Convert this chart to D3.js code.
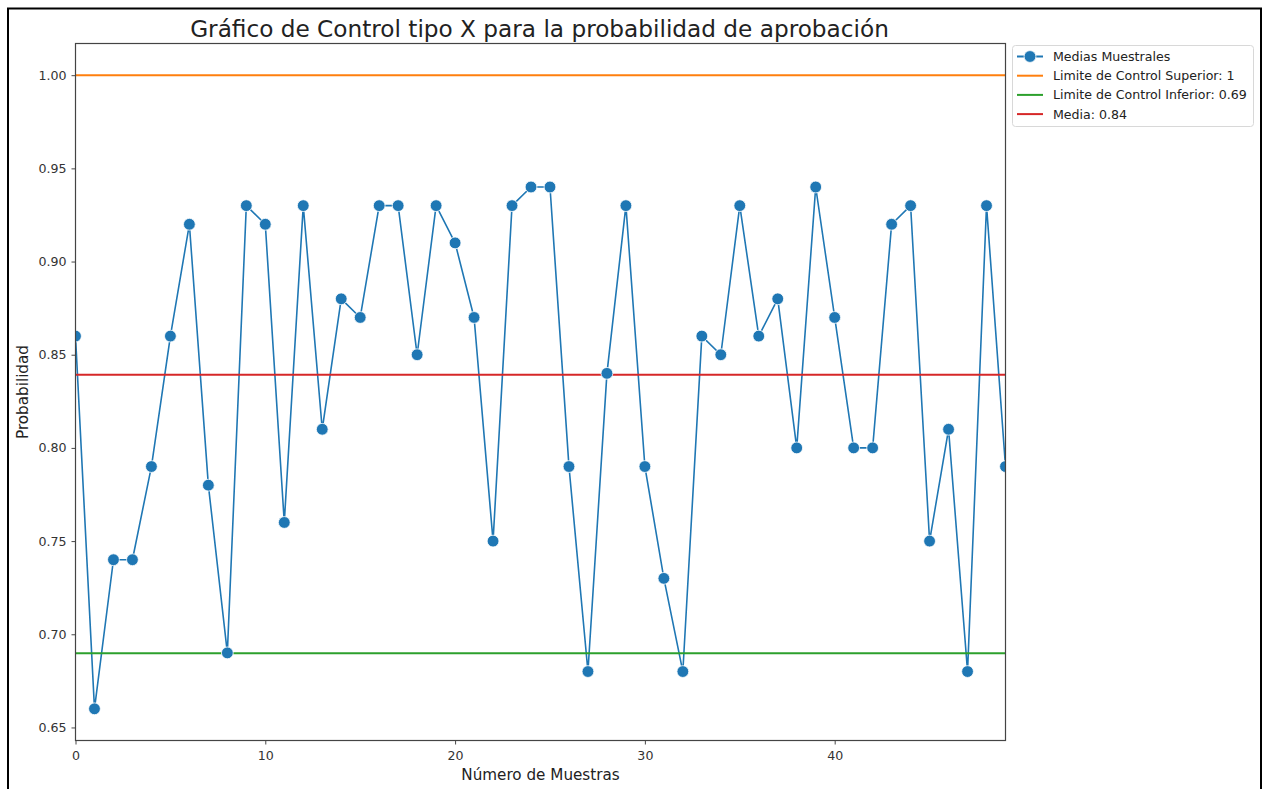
<!DOCTYPE html>
<html>
<head>
<meta charset="utf-8">
<script src="https://cdn.jsdelivr.net/npm/d3@7"></script>
<style>
  html, body { margin: 0; padding: 0; background: #fff; }
  svg { display: block; font-family: "DejaVu Sans", sans-serif; }
</style>
</head>
<body>
<svg id="chart" width="1264" height="789"></svg>
<script>
// Sample means of the approval probability, one per sample
const sampleIndex = d3.range(50);
const sampleMeans = [
  0.86, 0.66, 0.74, 0.74, 0.79, 0.86, 0.92, 0.78, 0.69, 0.93,
  0.92, 0.76, 0.93, 0.81, 0.88, 0.87, 0.93, 0.93, 0.85, 0.93,
  0.91, 0.87, 0.75, 0.93, 0.94, 0.94, 0.79, 0.68, 0.84, 0.93,
  0.79, 0.73, 0.68, 0.86, 0.85, 0.93, 0.86, 0.88, 0.80, 0.94,
  0.87, 0.80, 0.80, 0.92, 0.93, 0.75, 0.81, 0.68, 0.93, 0.79
];
const upperLimit = 1;
const lowerLimit = 0.6898;
const centerLine = d3.mean(sampleMeans);

const xTicks = [0, 10, 20, 30, 40];
const yTicks = [0.65, 0.70, 0.75, 0.80, 0.85, 0.90, 0.95, 1.00];

const titleText = "Gráfico de Control tipo X para la probabilidad de aprobación";
const xLabel = "Número de Muestras";
const yLabel = "Probabilidad";

const round2 = v => String(Math.round(v * 100) / 100);
const legendItems = [
  { label: "Medias Muestrales", color: "#1f77b4", marker: true },
  { label: "Limite de Control Superior: " + round2(upperLimit), color: "#ff7f0e" },
  { label: "Limite de Control Inferior: " + round2(lowerLimit), color: "#2ca02c" },
  { label: "Media: " + round2(centerLine), color: "#d62728" }
];

const svg = d3.select("#chart");
const plot = { left: 75.5, right: 1005.5, top: 43.5, bottom: 740.5 };
const tickFont = 12.6;

// outer frame
svg.append("rect")
  .attr("x", 8).attr("y", 8.5)
  .attr("width", 1253).attr("height", 800)
  .attr("fill", "none").attr("stroke", "#000").attr("stroke-width", 2);

// matplotlib-style 5% padding around the data
const yMin = d3.min(sampleMeans), yMax = upperLimit;
const yPad = (yMax - yMin) * 0.05;
const x = d3.scaleLinear().domain([0, sampleMeans.length - 1]).range([plot.left, plot.right]);
const y = d3.scaleLinear().domain([yMin - yPad, yMax + yPad]).range([plot.bottom, plot.top]);

svg.append("defs").append("clipPath").attr("id", "plotClip")
  .append("rect")
  .attr("x", plot.left).attr("y", plot.top)
  .attr("width", plot.right - plot.left).attr("height", plot.bottom - plot.top);

const g = svg.append("g").attr("clip-path", "url(#plotClip)");

// sample means line
const line = d3.line().x((d, i) => x(sampleIndex[i])).y(d => y(d));
g.append("path").datum(sampleMeans)
  .attr("d", line)
  .attr("fill", "none").attr("stroke", "#1f77b4").attr("stroke-width", 1.6)
  .attr("stroke-linejoin", "round");

// control limits and center line
const hlines = [
  { v: upperLimit, color: "#ff7f0e" },
  { v: lowerLimit, color: "#2ca02c" },
  { v: centerLine, color: "#d62728" }
];
g.selectAll("line.hl").data(hlines).enter().append("line")
  .attr("class", "hl")
  .attr("x1", plot.left).attr("x2", plot.right)
  .attr("y1", d => y(d.v)).attr("y2", d => y(d.v))
  .attr("stroke", d => d.color).attr("stroke-width", 2);

// sample means markers
g.selectAll("circle.pt").data(sampleMeans).enter().append("circle")
  .attr("class", "pt")
  .attr("cx", (d, i) => x(sampleIndex[i]))
  .attr("cy", d => y(d))
  .attr("r", 5.9)
  .attr("fill", "#1f77b4").attr("stroke", "#fff").attr("stroke-width", 0.8);

// axes
const xAxis = d3.axisBottom(x).tickValues(xTicks).tickFormat(d3.format("d")).tickSize(4).tickSizeOuter(0);
const yAxis = d3.axisLeft(y).tickValues(yTicks).tickFormat(d3.format(".2f")).tickSize(4).tickSizeOuter(0);

const gx = svg.append("g").attr("transform", `translate(0,${plot.bottom})`).call(xAxis);
const gy = svg.append("g").attr("transform", `translate(${plot.left},0)`).call(yAxis);
[gx, gy].forEach(a => {
  a.select(".domain").remove();
  a.selectAll(".tick line").attr("stroke", "#333").attr("stroke-width", 0.9);
  a.selectAll(".tick text").attr("fill", "#333").attr("font-size", tickFont)
    .attr("font-family", "DejaVu Sans, sans-serif");
});
gx.selectAll(".tick text").attr("dy", "1.0em");
gy.selectAll(".tick text").attr("dx", "-0.15em");

// axes frame
svg.append("rect")
  .attr("x", plot.left).attr("y", plot.top)
  .attr("width", plot.right - plot.left).attr("height", plot.bottom - plot.top)
  .attr("fill", "none").attr("stroke", "#444").attr("stroke-width", 1.2);

// title and axis labels
svg.append("text")
  .attr("x", (plot.left + plot.right) / 2 - 1).attr("y", 37)
  .attr("text-anchor", "middle").attr("font-size", 23.2).attr("fill", "#222")
  .text(titleText);
svg.append("text")
  .attr("x", (plot.left + plot.right) / 2).attr("y", 780)
  .attr("text-anchor", "middle").attr("font-size", 15.2).attr("fill", "#222")
  .text(xLabel);
svg.append("text")
  .attr("transform", `translate(28,${(plot.top + plot.bottom) / 2}) rotate(-90)`)
  .attr("text-anchor", "middle").attr("font-size", 15.2).attr("fill", "#222")
  .text(yLabel);

// legend
const lg = svg.append("g").attr("transform", "translate(1012,45)");
lg.append("rect")
  .attr("x", 0.5).attr("y", 0.5).attr("width", 241).attr("height", 81)
  .attr("rx", 3).attr("fill", "#fff").attr("stroke", "#d8d8d8").attr("stroke-width", 1);
const rows = lg.selectAll("g.item").data(legendItems).enter().append("g")
  .attr("class", "item")
  .attr("transform", (d, i) => `translate(0,${11.5 + i * 19.2})`);
rows.append("line")
  .attr("x1", 5).attr("x2", 31).attr("y1", 0).attr("y2", 0)
  .attr("stroke", d => d.color).attr("stroke-width", 2);
rows.filter(d => d.marker).append("circle")
  .attr("cx", 18).attr("cy", 0).attr("r", 5.9)
  .attr("fill", "#1f77b4").attr("stroke", "#fff").attr("stroke-width", 0.8);
rows.append("text")
  .attr("x", 41).attr("y", 0).attr("dy", "0.35em")
  .attr("font-size", tickFont).attr("fill", "#222")
  .text(d => d.label);
</script>
</body>
</html>
